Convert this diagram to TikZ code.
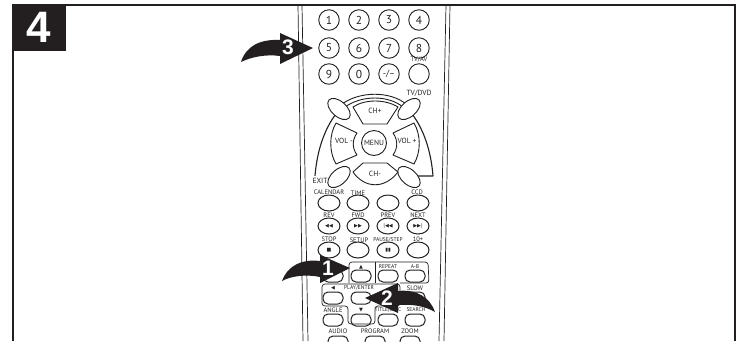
\documentclass[tikz,border=0pt]{standalone}
\usepackage{fontspec}
\setmainfont{PT Sans}
\newfontfamily\symfont{DejaVu Sans}
\newfontfamily\digitfont{Liberation Sans}
\usetikzlibrary{positioning,calc,shapes.geometric}
\definecolor{ink}{HTML}{231F20}
\begin{document}
\begin{tikzpicture}[x=1pt,y=-1pt,
    lbl/.style={font=\fontsize{6.5}{7}\selectfont,text=ink,inner sep=0pt},
    lblbig/.style={font=\fontsize{7.5}{8}\selectfont,text=ink,inner sep=0pt},
    lblsmall/.style={font=\fontsize{5.5}{6}\selectfont,text=ink,inner sep=0pt},
    numkey/.style={circle,draw=ink,line width=0.9pt,minimum size=20.5pt,inner sep=0pt,
      font=\fontsize{11.5}{12}\selectfont,text=ink},
    ovalkey/.style={ellipse,draw=ink,line width=1pt,minimum width=22pt,minimum height=16pt,inner sep=0pt,
      font=\symfont\fontsize{5}{6}\selectfont,text=ink},
    padkey/.style={rectangle,rounded corners=5pt,draw=ink,line width=1pt,minimum width=20pt,minimum height=12pt,inner sep=0pt},
    cornerkey/.style={ellipse,draw=ink,line width=0.9pt,fill=white,minimum width=27pt,minimum height=15pt,inner sep=0pt},
    dpad/.style={draw=ink,line width=0.9pt,line join=round},
    swoosh/.style={fill=ink,draw=none},
    swooshnum/.style={font=\digitfont\bfseries\fontsize{21}{21}\selectfont,text=white,inner sep=0pt}]
  \useasboundingbox (0,0) rectangle (744,341);
  \clip (0,0) rectangle (744,341);
  % page frame
  \draw[ink,line width=1.1pt] (13,341)--(13,5)--(735,5)--(735,341);
  \node[fill=ink,minimum width=54pt,minimum height=47pt,inner sep=0pt,
    font=\digitfont\bfseries\fontsize{44}{44}\selectfont,text=white] (stepnum) at (39,27) {4};
  % remote body
  \draw[ink,line width=0.7pt] (298,5)--(303,341) (302,5)--(308,341);
  \draw[ink,line width=0.7pt] (450,5)--(444,341) (446,5)--(439,341);
  % number keys
  \foreach \name/\txt/\px/\py in {k1/1/329/20,k2/2/359/20,k3/3/389/20,k4/4/419/20,
      k5/5/329/48,k6/6/359/48,k7/7/389/48,k8/8/419/48,
      k9/9/329/74,k0/0/359/74,kdash/{\fontsize{9}{9}\selectfont-{/}--}/389/74,ktv/{}/419/74}
    \node[numkey] (\name) at (\px,\py) {\txt};
  \node[lbl] (tvav) at (419,60) {TV/AV};
  \node[lblbig] (tvdvd) at (419,93) {TV/DVD};
  % direction cluster
  \draw[dpad,line width=1.1pt] (315,176) .. controls (317,150) and (325,128) .. (336,114);
  \draw[dpad] (342,104) .. controls (360,91) and (390,91) .. (406,104);
  \draw[dpad] (345,107) .. controls (362,95) and (388,95) .. (403,107);
  \draw[dpad,line width=1.1pt] (412,114) .. controls (423,128) and (431,150) .. (433,176)--(418,176);
  \draw[dpad] (353,107) .. controls (365,99) and (385,99) .. (398,107)--(387,124)--(363,124)--cycle;
  \draw[dpad] (353,172)--(363,163)--(387,163)--(398,172) .. controls (385,189) and (365,189) .. (353,172)--cycle;
  \draw[dpad] (336,123)--(357,133) .. controls (352,140) and (352,148) .. (357,155)--(336,164) .. controls (329,152) and (329,135) .. (336,123)--cycle;
  \draw[dpad] (414,123)--(393,133) .. controls (398,140) and (398,148) .. (393,155)--(414,164) .. controls (421,152) and (421,135) .. (414,123)--cycle;
  \node[lblbig,circle,draw=ink,line width=0.9pt,minimum size=25pt] (menu) at (374,143) {MENU};
  \node[cornerkey,rotate=-42] (tl) at (339,109) {};
  \node[cornerkey,rotate=42] (tr) at (409,109) {};
  \node[cornerkey,rotate=42] (bl) at (339,177) {};
  \node[cornerkey,rotate=-42] (br) at (409,177) {};
  \node[lblbig] (chup) at (375,111) {CH+};
  \node[lblbig] (chdn) at (375,174) {CH-};
  \node[lblbig] (volm) at (344,141) {VOL -};
  \node[lblbig] (volp) at (407,141) {VOL +};
  \node[lblbig] (exit) at (320,181) {EXIT};
  % oval keys
  \foreach \name/\sym/\px/\py in {o1/{}/329/203,o2/{}/358/203,o3/{}/388/203,o4/{}/418/203,
      o5/◀◀/329/226,o6/▶▶/358/226,o7/|◀◀/388/226,o8/▶▶|/418/226,
      o9/■/329/250,o10/{}/358/250,o11/▮▮/388/250,o12/{}/418/250}
    \node[ovalkey] (\name) at (\px,\py) {\sym};
  \foreach \name/\txt/\px/\py in {calendar/CALENDAR/329/192,time/TIME/358/193,ccd/CCD/417/192,
      rev/REV/329/215,fwd/FWD/358/215,prev/PREV/388/215,next/NEXT/418/215,
      stop/STOP/329/239,setup/SETUP/359/240,ten/10+/418/239}
    \node[lbl] (\name) at (\px,\py) {\txt};
  \node[lblsmall] (pause) at (388,240) {PAUSE/STEP};
  % lower keys
  \draw[ink,line width=0.7pt,rounded corners=3pt] (349,283)--(349,262)--(428,262)--(429,283)--(400,283);
  \draw[ink,line width=0.7pt] (375,262)--(375,283);
  \draw[ink,line width=0.7pt,rounded corners=3pt] (349,284)--(322,284)--(322,306)--(348,306)--(348,324)--(375,324)--(375,306)--(400,306)--(400,284)--(349,284);
  \foreach \name/\px/\py in {p1/333/276,p2/361/276,p3/388/276,p4/415/276,
      p5/333/298,p6/361/298,p7/388/298,p8/415/298,
      p9/333/320,p10/361/320,p11/388/320,p12/415/320,
      p13/338/342,p14/375/342,p15/410/342}
    \node[padkey] (\name) at (\px,\py) {};
  \foreach \name/\txt/\px/\py in {slow/SLOW/415/288,angle/ANGLE/333/310,
      audio/AUDIO/338/331,program/PROGRAM/375/331,zoom/ZOOM/410/331}
    \node[lbl] (\name) at (\px,\py) {\txt};
  \foreach \name/\txt/\px/\py in {repeat/REPEAT/388/267,ab/A-B/415/267,play/{PLAY/ENTER}/359/288,
      title/{TITLE/DISC}/388/310,search/SEARCH/416/310}
    \node[lblsmall] (\name) at (\px,\py) {\txt};
  \foreach \name/\txt/\px/\py in {up/▲/361/267,dn/▼/361/310,lf/◀/333/288}
    \node[lbl,font=\symfont\fontsize{5}{6}\selectfont] (\name) at (\px,\py) {\txt};
  % pointers
  \fill[swoosh] (350,268)--(320,255)--(320,261) .. controls (302,259) and (288,265) .. (282,281)
    .. controls (291,276) and (306,274) .. (320,277)--(320,283)--cycle;
  \node[swooshnum] (n1) at (328,268) {1};
  \fill[swoosh] (365,298)--(398,283)--(398,291) .. controls (416,289) and (430,297) .. (435,312)
    .. controls (425,306) and (412,304) .. (398,305)--(398,313)--cycle;
  \node[swooshnum] (n2) at (387,298) {2};
  \fill[swoosh] (313,48)--(280,33)--(280,40) .. controls (260,39) and (246,46) .. (241,62)
    .. controls (251,57) and (266,54) .. (280,56)--(280,64)--cycle;
  \node[swooshnum] (n3) at (288,47) {3};
\end{tikzpicture}
\end{document}
